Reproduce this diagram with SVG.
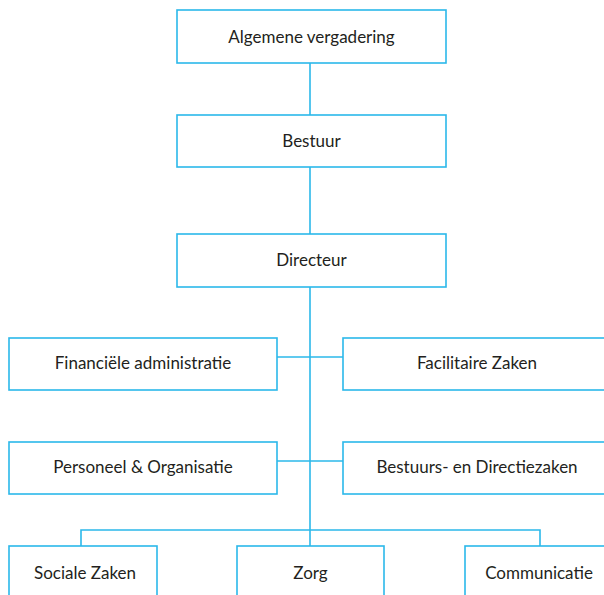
<svg xmlns="http://www.w3.org/2000/svg" width="604" height="595" viewBox="0 0 604 595">
<style>
.box{fill:#fff;stroke:#2bb8ea;stroke-width:1.6}
.ln{fill:none;stroke:#2bb8ea;stroke-width:1.6}
text{font-family:"Lato","Open Sans",sans-serif;font-size:17px;fill:#231f20;text-anchor:middle}
</style>
<rect width="604" height="595" fill="#fff"/>
<g id="connectors">
<line class="ln" x1="310" y1="63" x2="310" y2="115"/>
<line class="ln" x1="310" y1="167" x2="310" y2="234"/>
<line class="ln" x1="310" y1="287" x2="310" y2="546"/>
<line class="ln" x1="277" y1="357" x2="343" y2="357"/>
<line class="ln" x1="277" y1="461" x2="343" y2="461"/>
<polyline class="ln" points="81,546 81,530 540,530 540,546"/>
</g>
<g id="algemene"><rect class="box" x="177" y="10" width="269" height="53"/><text x="311.5" y="43">Algemene vergadering</text></g>
<g id="bestuur"><rect class="box" x="177" y="115" width="269" height="52"/><text x="311.5" y="147">Bestuur</text></g>
<g id="directeur"><rect class="box" x="177" y="234" width="269" height="53"/><text x="311.5" y="266">Directeur</text></g>
<g id="financien"><rect class="box" x="9" y="338" width="268" height="52"/><text x="143" y="369">Financiële administratie</text></g>
<g id="facilitair"><rect class="box" x="343" y="338" width="268" height="52"/><text x="477" y="369">Facilitaire Zaken</text></g>
<g id="personeel"><rect class="box" x="9" y="442" width="268" height="52"/><text x="143" y="473">Personeel &amp; Organisatie</text></g>
<g id="bestuurszaken"><rect class="box" x="343" y="442" width="268" height="52"/><text x="477" y="473">Bestuurs- en Directiezaken</text></g>
<g id="sociale"><rect class="box" x="9" y="546" width="148" height="60"/><text x="85" y="579">Sociale Zaken</text></g>
<g id="zorg"><rect class="box" x="237" y="546" width="147" height="60"/><text x="310.5" y="579">Zorg</text></g>
<g id="communicatie"><rect class="box" x="465" y="546" width="148" height="60"/><text x="539" y="579">Communicatie</text></g>
</svg>
